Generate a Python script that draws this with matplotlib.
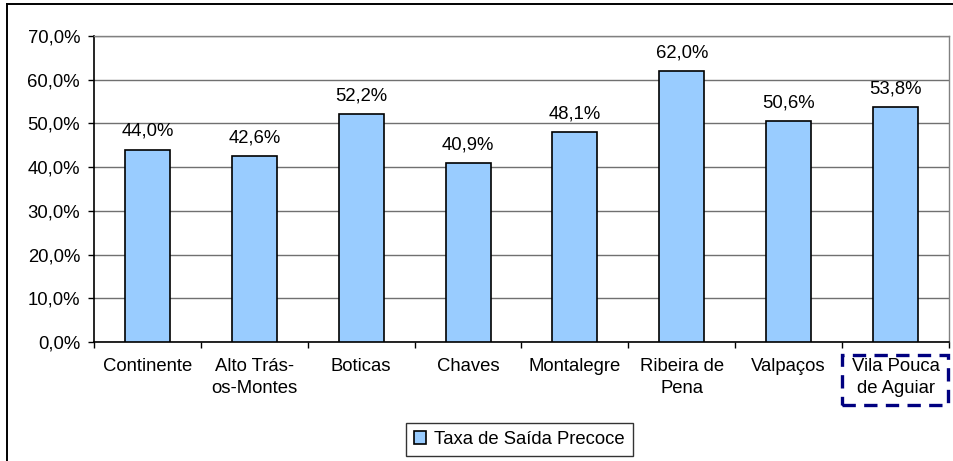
import matplotlib
matplotlib.use("Agg")
import matplotlib.pyplot as plt
from matplotlib.patches import Rectangle
from matplotlib.lines import Line2D
from matplotlib.ticker import MultipleLocator, FuncFormatter, FixedLocator
import numpy as np

categories = ["Continente", "Alto Trás-\nos-Montes", "Boticas", "Chaves", "Montalegre",
              "Ribeira de\nPena", "Valpaços", "Vila Pouca\nde Aguiar"]
values = [44.0, 42.6, 52.2, 40.9, 48.1, 62.0, 50.6, 53.8]
series_name = "Taxa de Saída Precoce"

plt.rcParams['font.family'] = ['Liberation Sans', 'DejaVu Sans']
FS = 13.3

fig = plt.figure(figsize=(9.54, 4.61), dpi=100)
ax = fig.add_axes([94/954, 1-342/461, (949-94)/954, (342-36)/461])

x = np.arange(len(categories))
bars = ax.bar(x, values, width=0.42, color="#99CCFF", edgecolor="black", linewidth=1.2,
              label=series_name, zorder=3)
for xi, v in zip(x, values):
    ax.annotate(f"{v:.1f}%".replace(".", ","), (xi, v), xytext=(0, 7),
                textcoords="offset points", ha="center", va="bottom", fontsize=FS)

ax.set_xlim(-0.5, len(categories) - 0.5)
ax.set_ylim(0, 70)
ax.yaxis.set_major_locator(MultipleLocator(10))
ax.yaxis.set_major_formatter(FuncFormatter(lambda v, p: f"{v:.1f}%".replace(".", ",")))
ax.grid(axis="y", color="#707070", linewidth=1.0, zorder=0)

ax.set_xticks(x)
ax.set_xticklabels(categories, fontsize=FS, linespacing=1.42)
ax.xaxis.set_minor_locator(FixedLocator(np.arange(-0.5, len(categories), 1.0)))
ax.tick_params(axis="x", which="major", length=0, pad=11.5)
ax.tick_params(axis="x", which="minor", length=4, width=1, color="black", direction="out")
ax.tick_params(axis="y", which="major", length=4, width=1, pad=6, labelsize=FS, direction="out")

for s in ["top", "right"]:
    ax.spines[s].set_color("#808080")
    ax.spines[s].set_linewidth(1.0)
for s in ["left", "bottom"]:
    ax.spines[s].set_color("black")
    ax.spines[s].set_linewidth(1.2)

leg = ax.legend(loc="center", bbox_to_anchor=((519.5-94)/(949-94), (342-439.5)/(342-36)),
                fontsize=FS, frameon=True, fancybox=False, borderpad=0.45,
                handlelength=0.65, handleheight=0.65, handletextpad=0.4)
leg.get_frame().set_edgecolor("black")
leg.get_frame().set_linewidth(1.0)

# dashed highlight box around last label
fig.patches.append(Rectangle((842/954, 1-405/461), (948-842)/954, (405-355)/461,
                             transform=fig.transFigure, fill=False, edgecolor="#000080",
                             linewidth=2.4, linestyle=(0, (4, 2.5))))

# outer frame (top and left)
fig.lines.append(Line2D([7/954, 1], [1-4.5/461, 1-4.5/461], transform=fig.transFigure,
                        color="black", linewidth=1.4))
fig.lines.append(Line2D([7/954, 7/954], [0, 1-4.5/461], transform=fig.transFigure,
                        color="black", linewidth=1.4))

fig.savefig("out.png", dpi=100)
